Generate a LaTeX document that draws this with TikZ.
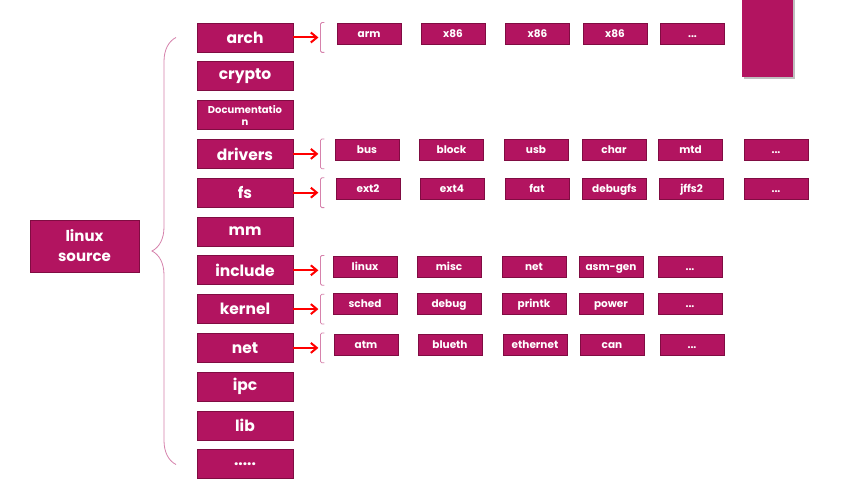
\documentclass[tikz,border=0pt]{standalone}
\usepackage{fontspec}
\setmainfont{Poppins}
\usepackage{xcolor}
\usepackage{tikz}
\usetikzlibrary{arrows.meta,positioning,calc,decorations.pathreplacing}

\definecolor{boxfill}{RGB}{178,20,96}
\definecolor{boxline}{RGB}{128,12,66}
\definecolor{bracecol}{RGB}{214,130,172}
\newcommand{\moredots}{...}
\newcommand{\restdots}{.....}

\begin{document}
\begin{tikzpicture}[x=1pt,y=-1pt,
  dirbox/.style={draw=boxline,line width=0.8pt,fill=boxfill,text=white,
    minimum width=96pt,minimum height=29pt,inner sep=1pt,align=center},
  subbox/.style={draw=boxline,line width=0.6pt,fill=boxfill,text=white,
    minimum width=64pt,minimum height=21pt,inner sep=1pt,
    text height=7pt,text depth=0pt,
    font=\fontsize{10.5}{10.5}\selectfont\bfseries},
  linkarrow/.style={red,line width=2pt,-{Straight Barb[length=6pt,width=10pt]}},
  bracket/.style={bracecol,line width=0.8pt,rounded corners=1.5pt}]
  \useasboundingbox (0,0) rectangle (841,487);
  \fill[white] (0,0) rectangle (841,487);
  % corner block
  \fill[black!25] (744,-5) rectangle (795,79);
  \fill[boxfill] (742,-5) rectangle (793,77);
  % root
  \node[dirbox,minimum width=109pt,minimum height=52pt,
    font=\fontsize{15}{20}\selectfont\bfseries] (root) at (84.5,246) {linux\\source};
  % top level directories
  \foreach \n/\lab/\sz [count=\i] in {arch/arch/15.5,crypto/crypto/15.5,
      doc/{Documentatio\\n}/10,drivers/drivers/15.5,fs/fs/15.5,mm/mm/15.5,
      include/include/15.5,kernel/kernel/15.5,net/net/15.5,ipc/ipc/15.5,lib/lib/15.5,
      more/\restdots/15.5}
    \node[dirbox,font=\fontsize{\sz}{12}\selectfont\bfseries]
      (\n) at (245,{37.5+(\i-1)*38.8}) {\lab};
  \draw[bracecol,line width=0.8pt,decorate,
    decoration={brace,amplitude=24pt,aspect=0.5}]
    (176,464.5) -- (176,37.5);
  % sub directories
  \foreach \d in {arch,drivers,fs,include,kernel,net} {
    \coordinate (\d-end) at ($(\d.east)+(25,0)$);
    \draw[linkarrow] (\d.east) -- (\d-end);
    \draw[bracket] ($(\d.north east)+(31,0)$) -- ($(\d.north east)+(27,0)$)
      -- ($(\d.south east)+(27,0)$) -- ($(\d.south east)+(31,0)$);
  }
  \foreach \x/\lab [count=\i] in {369/arm,453/x86,537.5/x86,615/x86,692.5/\moredots}
    \node[subbox] (arch-\i) at (\x,34) {\lab};
  \foreach \x/\lab [count=\i] in {367/bus,451.5/block,536/usb,614/char,690.5/mtd,776/\moredots}
    \node[subbox] (drivers-\i) at (\x,150) {\lab};
  \foreach \x/\lab [count=\i] in {368/ext2,452/ext4,537/fat,614.5/debugfs,691.5/jffs2,776/\moredots}
    \node[subbox] (fs-\i) at (\x,189) {\lab};
  \foreach \x/\lab [count=\i] in {365/linux,449/misc,534/net,611/asm-gen,690/\moredots}
    \node[subbox] (include-\i) at (\x,267) {\lab};
  \foreach \x/\lab [count=\i] in {365/sched,449/debug,534/printk,611/power,690/\moredots}
    \node[subbox] (kernel-\i) at (\x,304) {\lab};
  \foreach \x/\lab [count=\i] in {366/atm,450/blueth,535/ethernet,612/can,692/\moredots}
    \node[subbox] (net-\i) at (\x,344.5) {\lab};
\end{tikzpicture}
\end{document}
